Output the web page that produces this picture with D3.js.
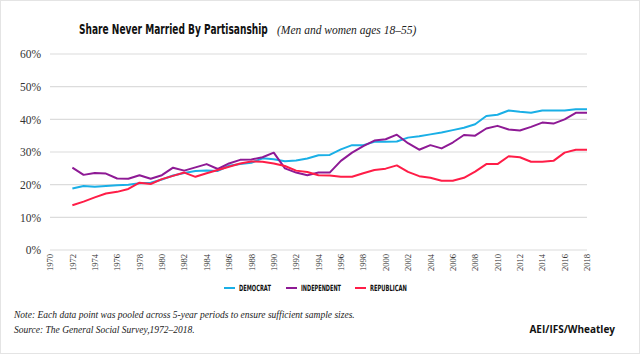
<!DOCTYPE html>
<html>
<head>
<meta charset="utf-8">
<script src="https://cdn.jsdelivr.net/npm/d3@7"></script>
<style>
  body { margin: 0; background: #fff; }
  svg { display: block; }
</style>
</head>
<body>
<svg id="chart"></svg>
<script>
// Data (share never married, %)
const years = d3.range(1972, 2019);
const democrat = [18.8, 19.6, 19.4, 19.6, 19.8, 20.0, 20.4, 20.6, 21.6, 22.8, 23.6, 24.2, 24.3, 24.2, 25.8, 26.3, 26.7,
    28.1, 27.8, 27.2, 27.4, 28.0, 29.0, 29.1, 30.8, 32.1, 32.1, 33.1, 33.1, 33.2, 34.4, 34.8, 35.4, 36.0, 36.7, 37.4,
    38.5, 41.0, 41.4, 42.7, 42.3, 42.0, 42.7, 42.7, 42.7, 43.1, 43.1];
const independent = [25.2, 23.0, 23.6, 23.4, 21.9, 21.8, 22.9, 21.8, 22.9, 25.2, 24.3, 25.3, 26.3, 24.8, 26.5, 27.6, 27.7,
    28.4, 29.8, 25.0, 23.7, 22.9, 23.7, 23.7, 27.3, 29.8, 31.8, 33.5, 33.9, 35.3, 32.7, 30.7, 32.1, 31.1, 32.9, 35.2,
    35.0, 37.2, 38.0, 36.9, 36.6, 37.7, 39.0, 38.7, 40.0, 42.0, 42.0];
const republican = [13.7, 14.8, 16.1, 17.3, 17.8, 18.7, 20.6, 20.2, 21.7, 22.7, 23.7, 22.4, 23.5, 24.5, 25.5, 26.5, 27.1,
    27.0, 26.5, 25.7, 24.3, 23.9, 22.9, 22.8, 22.4, 22.4, 23.5, 24.5, 24.9, 25.9, 23.9, 22.6, 22.1, 21.2, 21.2, 22.1,
    24.0, 26.3, 26.3, 28.7, 28.4, 27.0, 27.0, 27.3, 29.8, 30.7, 30.7];
const seriesNames = ['DEMOCRAT', 'INDEPENDENT', 'REPUBLICAN'];
const seriesColors = ['#1aafe6', '#8e1a95', '#ff1d47'];
const yTicks = [0, 10, 20, 30, 40, 50, 60];
const xTicks = d3.range(1970, 2019, 2);

const width = 640;
const height = 354;
const margin = { top: 54, right: 53, bottom: 104, left: 50 };
const condensed = '"DejaVu Sans", sans-serif';

const svg = d3.select('#chart')
    .attr('width', width)
    .attr('height', height);

// light frame round the picture
svg.append('rect')
    .attr('x', 0.5).attr('y', 0.5)
    .attr('width', width - 1).attr('height', height - 1)
    .attr('fill', '#fff')
    .attr('stroke', '#e4e4e4');

const x = d3.scaleLinear()
    .domain([1970, 2018])
    .range([margin.left, width - margin.right]);
const y = d3.scaleLinear()
    .domain([0, 60])
    .range([height - margin.bottom, margin.top]);

// squeeze a text horizontally so it fills a given width (no condensed font here)
function squeeze(sel, left, baseline, w) {
    sel.each(function () {
        const natural = this.getComputedTextLength();
        d3.select(this).attr('transform', `translate(${left}, ${baseline}) scale(${w / natural}, 1)`);
    });
}

// gridlines
svg.append('g')
    .selectAll('line')
    .data(yTicks)
    .enter().append('line')
    .attr('x1', x(1970))
    .attr('x2', x(2018))
    .attr('y1', d => y(d))
    .attr('y2', d => y(d))
    .attr('stroke', '#dcdcdc')
    .attr('stroke-width', 1.2);

// y-axis labels
const yAxis = svg.append('g')
    .attr('transform', `translate(${margin.left}, 0)`)
    .call(d3.axisLeft(y).tickValues(yTicks).tickSize(0).tickPadding(9).tickFormat(d => d + '%'));
yAxis.select('.domain').remove();
yAxis.selectAll('text')
    .style('font-family', '"Liberation Serif", serif')
    .style('font-size', '11.5px')
    .attr('fill', '#333');

// x-axis labels (rotated)
const xAxis = svg.append('g')
    .attr('transform', `translate(0, ${y(0)})`)
    .call(d3.axisBottom(x).tickValues(xTicks).tickSize(0).tickFormat(d3.format('d')));
xAxis.select('.domain').remove();
xAxis.selectAll('text')
    .attr('transform', 'rotate(-90)')
    .attr('x', -4)
    .attr('y', 0)
    .attr('dy', '0.32em')
    .style('text-anchor', 'end')
    .style('font-family', '"Liberation Serif", serif')
    .style('font-size', '8.5px')
    .attr('fill', '#333');

// lines
const allSeries = [democrat, independent, republican];
const line = d3.line()
    .x((d, i) => x(years[i]))
    .y(d => y(d));

svg.append('g')
    .selectAll('path')
    .data(allSeries)
    .enter().append('path')
    .attr('d', d => line(d))
    .attr('fill', 'none')
    .attr('stroke', (d, i) => seriesColors[i])
    .attr('stroke-width', 2)
    .attr('stroke-linejoin', 'round');

// legend
const legendX = [224, 286, 355];
const legendTextW = [32, 40, 37];
const legend = svg.append('g')
    .selectAll('g')
    .data(seriesNames)
    .enter().append('g')
    .attr('transform', (d, i) => `translate(${legendX[i]}, 288)`);
legend.append('line')
    .attr('x1', 0).attr('x2', 11)
    .attr('stroke', (d, i) => seriesColors[i])
    .attr('stroke-width', 2);
legend.append('text')
    .attr('dy', '0.36em')
    .text(d => d)
    .style('font-family', condensed)
    .style('font-weight', 'bold')
    .style('font-size', '8.5px')
    .attr('fill', '#111')
    .each(function (d, i) {
        squeeze(d3.select(this), 15, 0, legendTextW[i]);
    });

// title
svg.append('text')
    .text('Share Never Married By Partisanship')
    .style('font-family', condensed)
    .style('font-weight', 'bold')
    .style('font-size', '14.5px')
    .attr('fill', '#111')
    .call(squeeze, 79, 34, 189);

svg.append('text')
    .attr('x', 277)
    .attr('y', 34)
    .text('(Men and women ages 18–55)')
    .style('font-family', '"Liberation Serif", serif')
    .style('font-style', 'italic')
    .style('font-size', '11.5px')
    .attr('fill', '#222');

// notes
svg.append('text')
    .attr('x', 14)
    .attr('y', 318)
    .text('Note: Each data point was pooled across 5-year periods to ensure sufficient sample sizes.')
    .style('font-family', '"Liberation Serif", serif')
    .style('font-style', 'italic')
    .style('font-size', '9.5px')
    .attr('fill', '#222');

svg.append('text')
    .attr('x', 14)
    .attr('y', 333)
    .text('Source: The General Social Survey,1972–2018.')
    .style('font-family', '"Liberation Serif", serif')
    .style('font-style', 'italic')
    .style('font-size', '9.5px')
    .attr('fill', '#222');

svg.append('text')
    .attr('x', 615)
    .attr('y', 333)
    .attr('text-anchor', 'end')
    .text('AEI/IFS/Wheatley')
    .style('font-family', '"Open Sans", sans-serif')
    .style('font-weight', 'bold')
    .style('font-size', '10px')
    .attr('fill', '#111');
</script>
</body>
</html>
